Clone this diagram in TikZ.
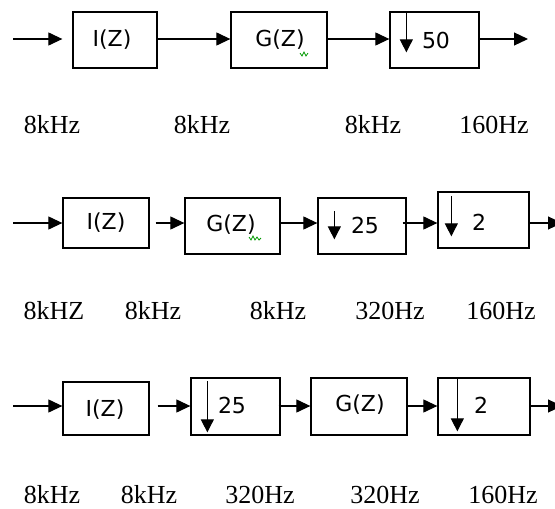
\documentclass[tikz,border=0pt]{standalone}
\usepackage{fontspec}
\setmainfont{Liberation Serif}
\newfontfamily\boxfont{DejaVu Sans}
\usetikzlibrary{arrows.meta}
\tikzset{
  x=1pt, y=-1pt,
  blk/.style={draw, line width=1.3pt, rectangle, inner sep=0pt, minimum height=56pt},
  txt/.style={font=\boxfont\fontsize{22}{22}\selectfont, inner sep=0pt, anchor=center},
  freq/.style={font=\fontsize{26}{26}\selectfont, inner sep=0pt, anchor=base},
  arr/.style={line width=1.2pt, -{Triangle[length=14pt,width=13pt]}},
  dn/.style={line width=1.1pt, -{Triangle[length=13pt,width=13pt]}},
  squig/.style={draw=green!60!black, line width=0.8pt}
}
\begin{document}
\begin{tikzpicture}
\useasboundingbox (0,0) rectangle (555,509);
% ---------- Row 1 ----------
\coordinate (r1) at (0,39);
\coordinate (in1) at (13,39);
\coordinate (out1) at (528,39);
\node[blk, minimum width=84pt] (b11) at (115,40) {};
\node[blk, minimum width=96pt] (b12) at (279,40) {};
\node[blk, minimum width=89pt] (b13) at (434.5,40) {};
\node[txt] (t11) at (112,40) {I(Z)};
\node[txt] (t12) at (280,40) {G(Z)};
\node[txt] (t13) at (436,40) {50};
\draw[arr, shorten >=10pt] (in1) -- (b11.west |- r1);
\draw[arr] (b11.east |- r1) -- (b12.west |- r1);
\draw[arr] (b12.east |- r1) -- (b13.west |- r1);
\draw[arr] (b13.east |- r1) -- (out1);
\draw[dn] ([xshift=17pt]b13.north west) -- ++(0,41);
\draw[squig] (300,53) -- (302,56) -- (304,52) -- (306,56) -- (308,53);
\node[freq] (f11) at (52,133) {8kHz};
\node[freq] (f12) at (202,133) {8kHz};
\node[freq] (f13) at (373,133) {8kHz};
\node[freq] (f14) at (494,133) {160Hz};
% ---------- Row 2 ----------
\coordinate (r2) at (0,223);
\coordinate (in2) at (13,223);
\coordinate (out2) at (562,223);
\node[blk, minimum width=86pt, minimum height=50pt] (b21) at (106,223) {};
\node[blk, minimum width=95pt] (b22) at (232.5,226) {};
\node[blk, minimum width=88pt] (b23) at (362,226) {};
\node[blk, minimum width=91pt] (b24) at (483.5,220) {};
\node[txt] (t21) at (106,223) {I(Z)};
\node[txt] (t22) at (231,225) {G(Z)};
\node[txt] (t23) at (365,225) {25};
\node[txt] (t24) at (479,222) {2};
\draw[arr] (in2) -- (b21.west |- r2);
\draw[arr, shorten <=6pt] (b21.east |- r2) -- (b22.west |- r2);
\draw[arr] (b22.east |- r2) -- (b23.west |- r2);
\draw[arr, shorten <=-4pt] (b23.east |- r2) -- (b24.west |- r2);
\draw[arr] (b24.east |- r2) -- (out2);
\draw[dn] ([xshift=17pt,yshift=-14pt]b23.north west) -- ++(0,28);
\draw[dn] ([xshift=14pt,yshift=-5pt]b24.north west) -- ++(0,40);
\draw[squig] (249,237) -- (251,240) -- (253,236) -- (255,240) -- (257,237) -- (259,240) -- (261,238);
\node[freq] (f21) at (54,319) {8kHZ};
\node[freq] (f22) at (153,319) {8kHz};
\node[freq] (f23) at (278,319) {8kHz};
\node[freq] (f24) at (390,319) {320Hz};
\node[freq] (f25) at (501,319) {160Hz};
% ---------- Row 3 ----------
\coordinate (r3) at (0,406);
\coordinate (in3) at (13,406);
\coordinate (out3) at (562,406);
\node[blk, minimum width=86pt, minimum height=53pt] (b31) at (106,408.5) {};
\node[blk, minimum width=89pt, minimum height=57pt] (b32) at (235.5,406.5) {};
\node[blk, minimum width=96pt, minimum height=57pt] (b33) at (359,406.5) {};
\node[blk, minimum width=92pt, minimum height=57pt] (b34) at (484,406.5) {};
\node[txt] (t31) at (105,410) {I(Z)};
\node[txt] (t32) at (232,405) {25};
\node[txt] (t33) at (360,405) {G(Z)};
\node[txt] (t34) at (481,405) {2};
\draw[arr] (in3) -- (b31.west |- r3);
\draw[arr, shorten <=8pt] (b31.east |- r3) -- (b32.west |- r3);
\draw[arr, shorten <=-2pt] (b32.east |- r3) -- (b33.west |- r3);
\draw[arr] (b33.east |- r3) -- (b34.west |- r3);
\draw[arr] (b34.east |- r3) -- (out3);
\draw[dn] ([xshift=17pt,yshift=-4pt]b32.north west) -- ++(0,51);
\draw[dn] ([xshift=20pt,yshift=-2pt]b34.north west) -- ++(0,52);
\node[freq] (f31) at (52,503) {8kHz};
\node[freq] (f32) at (149,503) {8kHz};
\node[freq] (f33) at (260,503) {320Hz};
\node[freq] (f34) at (385,503) {320Hz};
\node[freq] (f35) at (503,503) {160Hz};
\end{tikzpicture}
\end{document}
